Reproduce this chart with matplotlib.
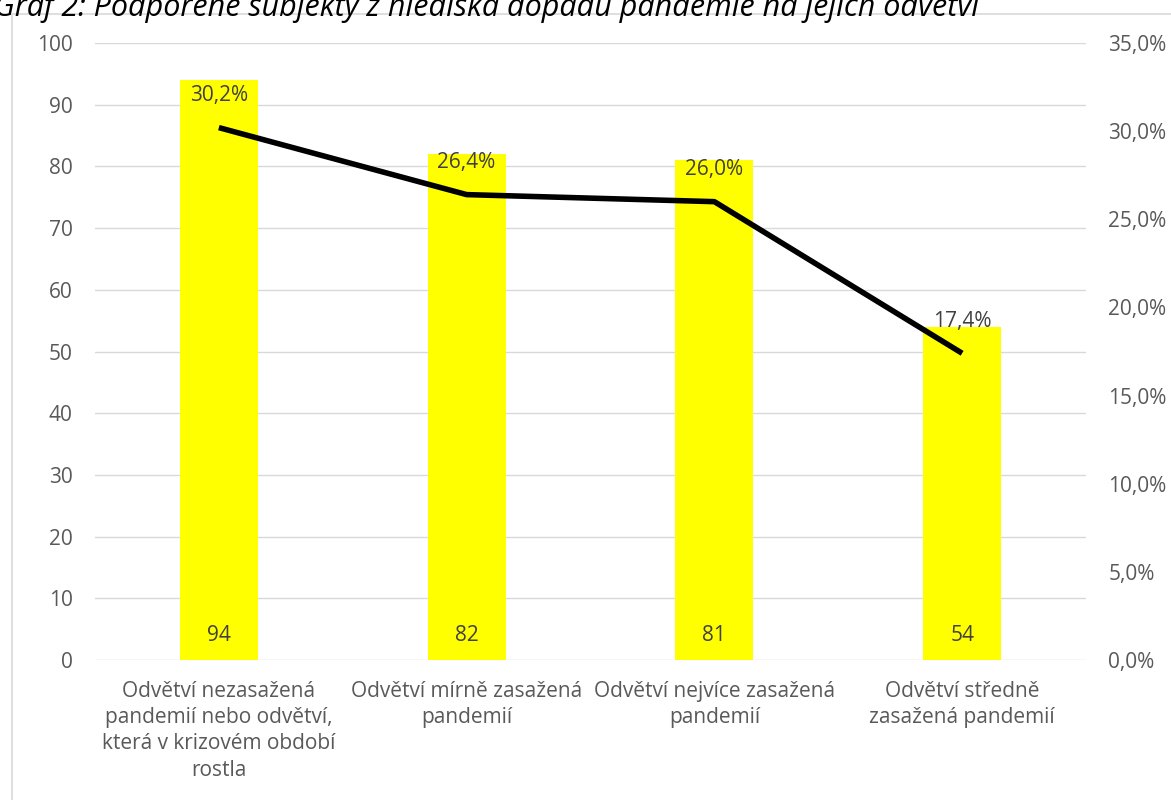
import matplotlib.pyplot as plt
from matplotlib.patches import Rectangle

plt.rcParams['font.family'] = ['Open Sans', 'DejaVu Sans']

categories = ['Odvětví nezasažená\npandemií nebo odvětví,\nkterá v krizovém období\nrostla',
              'Odvětví mírně zasažená\npandemií',
              'Odvětví nejvíce zasažená\npandemií',
              'Odvětví středně\nzasažená pandemií']
counts = [94, 82, 81, 54]
shares = [30.2, 26.4, 26.0, 17.4]
title = 'Graf 2: Podpořené subjekty z hlediska dopadu pandemie na jejich odvětví'

W, H = 1171, 800
fig = plt.figure(figsize=(W / 100, H / 100), dpi=100)
ax = fig.add_axes([95 / W, 1 - 660 / H, 991 / W, 617 / H])
ax2 = ax.twinx()

txt = '#595959'
fs = 15
x = range(len(categories))
ax.bar(x, counts, width=0.315, color='#ffff00', zorder=2)
for i, v in enumerate(counts):
    ax.text(i, 4.0, str(v), ha='center', va='center', fontsize=fs, color='#404040', zorder=3)

ax.set_xlim(-0.5, len(categories) - 0.5)
ax.set_ylim(0, 100)
ax.set_yticks(range(0, 101, 10))
ax.grid(axis='y', color='#d9d9d9', linewidth=1, zorder=0)
ax.set_xticks(list(x))
ax.set_xticklabels(categories, fontsize=fs, color=txt, linespacing=1.33)
ax.tick_params(axis='both', length=0, labelsize=fs, labelcolor=txt)
ax.tick_params(axis='x', pad=15)
ax.tick_params(axis='y', pad=16)
for s in ax.spines.values():
    s.set_visible(False)

ax2.plot(list(x), shares, color='black', linewidth=4, solid_capstyle='butt', zorder=4)
for i, v in enumerate(shares):
    ax2.text(i, v + 1.8, f'{v:.1f}%'.replace('.', ','), ha='center', va='center',
             fontsize=fs, color='#404040')
ax2.set_ylim(0, 35)
ax2.set_yticks(range(0, 36, 5))
ax2.set_yticklabels([f'{t:.1f}%'.replace('.', ',') for t in range(0, 36, 5)])
ax2.tick_params(axis='y', length=0, labelsize=fs, labelcolor=txt, pad=16)
for s in ax2.spines.values():
    s.set_visible(False)

fig.patches.append(Rectangle((12 / W, -0.1), 1.2, 1.1 - 14 / H, transform=fig.transFigure,
                             fill=False, edgecolor='#d9d9d9', linewidth=1.2))
fig.text(-6 / W, 1 - 16 / H, title, fontsize=22, style='italic', color='black',
         ha='left', va='baseline')

fig.savefig('out.png', dpi=100)
